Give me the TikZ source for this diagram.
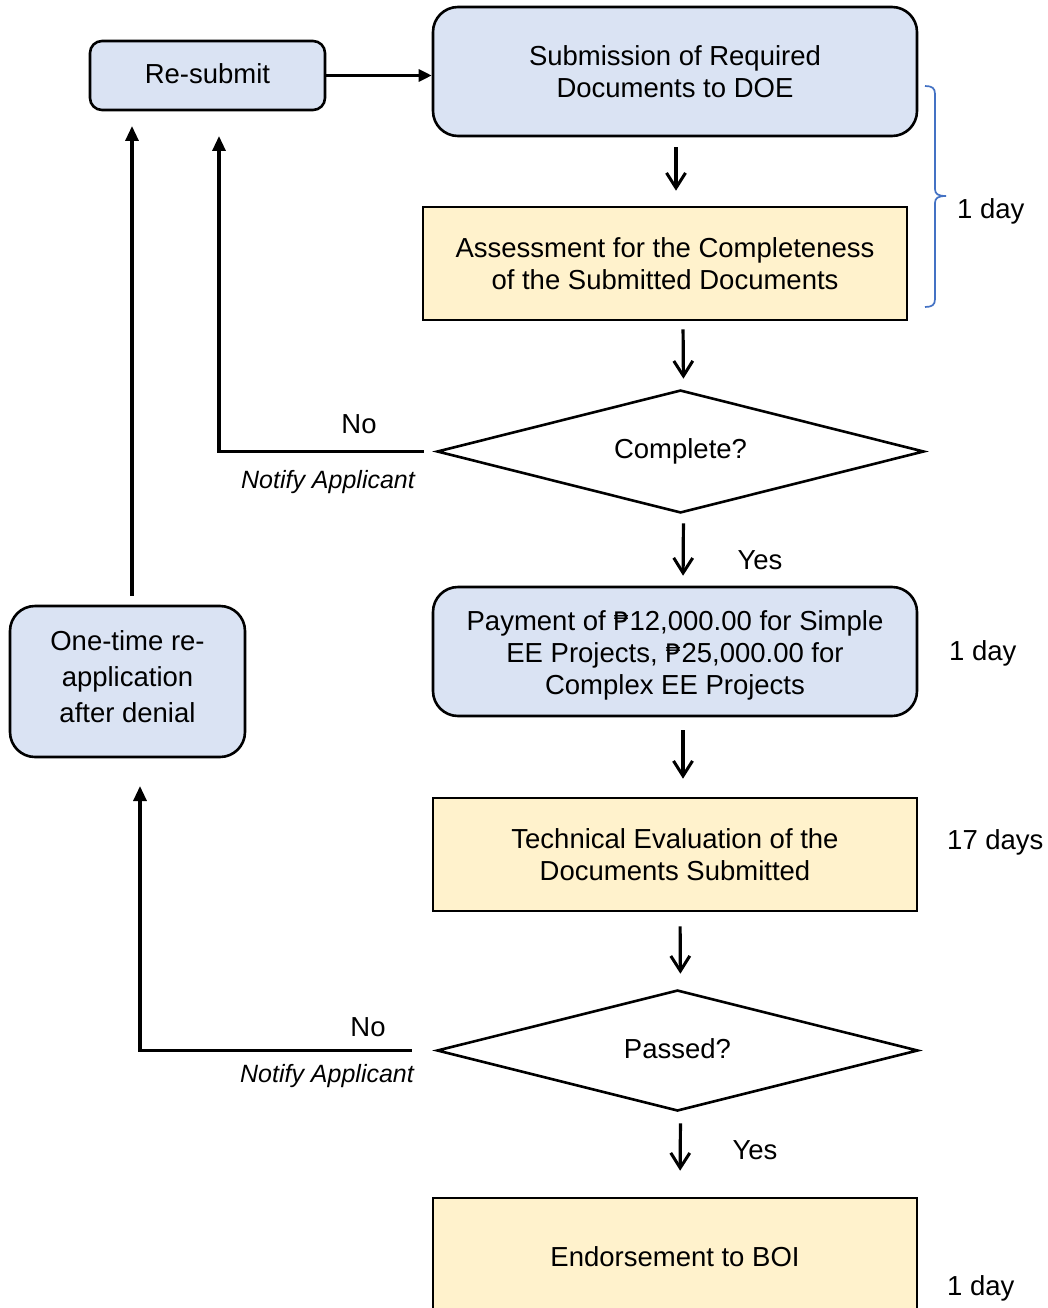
\documentclass[tikz,border=0pt]{standalone}
\usepackage{fontspec}
\setmainfont{Liberation Sans}
\newfontfamily\pesofont{DejaVu Sans}
\usetikzlibrary{shapes.geometric,arrows.meta}
\definecolor{boxblue}{HTML}{DAE3F3}
\definecolor{boxyellow}{HTML}{FFF2CC}
\definecolor{bracecol}{HTML}{4472C4}
\newcommand{\peso}{{\pesofont\fontsize{25.5}{32}\selectfont ₱}}
\begin{document}
\begin{tikzpicture}[x=1pt,y=-1pt,
  txt/.style={font=\fontsize{27.5}{32}\selectfont},
  base/.style={draw=black, line width=2.6pt, align=center, inner sep=0pt, txt},
  bluebox/.style={base, fill=boxblue, rounded corners=#1},
  bluebox/.default=25pt,
  yellowbox/.style={base, fill=boxyellow},
  decision/.style={base, diamond, fill=white, aspect=4},
  lbl/.style={txt, inner sep=0pt},
  note/.style={font=\itshape\fontsize{25}{30}\selectfont, inner sep=0pt},
  varr/.style={line width=3.2pt, -{Straight Barb[length=15pt,width=19pt,line width=3pt]}},
  farr/.style={line width=3.2pt, -{Triangle[length=15pt,width=13pt]}},
  harr/.style={line width=2.8pt, -{Triangle[length=13pt,width=12pt]}},
  noline/.style={line width=3.4pt},
  bracepath/.style={draw=bracecol, line width=1.7pt}
]
\clip (0,0) rectangle (1048,1308);
\fill[white] (0,0) rectangle (1048,1308);

% nodes
\node[bluebox=12pt, minimum width=235pt, minimum height=69pt] (rs) at (207.5,75.5) {\raisebox{4pt}{Re-submit}};
\node[bluebox, minimum width=484pt, minimum height=129pt] (sub) at (675,71.5) {Submission of Required\\Documents to DOE};
\node[yellowbox, minimum width=484pt, minimum height=113pt] (ass) at (665,263.5) {Assessment for the Completeness\\of the Submitted Documents};
\node[decision, minimum width=487pt, minimum height=123pt] (comp) at (680.5,451.5) {\raisebox{3pt}{Complete?}};
\node[bluebox, minimum width=484pt, minimum height=129pt] (pay) at (675,651.5) {};
\node[lbl, align=center] (paytxt) at ([yshift=-4pt]pay.center) {Payment of \peso12,000.00 for Simple\\EE Projects, \peso25,000.00 for\\Complex EE Projects};
\node[yellowbox, minimum width=484pt, minimum height=113pt] (tech) at (675,854.5) {Technical Evaluation of the\\Documents Submitted};
\node[decision, minimum width=481pt, minimum height=121pt] (pass) at (677.5,1050.5) {\raisebox{3pt}{Passed?}};
\node[yellowbox, minimum width=484pt, minimum height=122pt] (endo) at (675,1259) {\raisebox{4pt}{Endorsement to BOI}};
\node[bluebox, minimum width=235pt, minimum height=151pt] (ot) at (127.5,681.5) {};
\node[lbl, align=center, font=\fontsize{27.5}{36}\selectfont] (ottxt) at ([yshift=5pt]ot.center) {One-time re-\\application\\after denial};

% free-end coordinates
\coordinate (tipA) at (219,136);
\coordinate (tipB) at (140,786);
\coordinate (tipC) at (132,126);

% connectors
\draw[harr] (rs.east) -- (sub.west |- rs.east);
\draw[varr, shorten <=10pt, shorten >=15pt] ([xshift=1pt]sub.south) -- ([xshift=11pt]ass.north);
\draw[varr, shorten <=8pt, shorten >=10pt] ([xshift=18pt]ass.south) -- ([xshift=3pt]comp.north);
\draw[varr, shorten <=9pt, shorten >=10pt] ([xshift=3pt]comp.south) -- ([xshift=8pt]pay.north);
\draw[varr, shorten <=13pt, shorten >=18pt] ([xshift=8pt]pay.south) -- ([xshift=8pt]tech.north);
\draw[varr, shorten <=14pt, shorten >=15pt] ([xshift=5pt]tech.south) -- ([xshift=3pt]pass.north);
\draw[varr, shorten <=11pt, shorten >=26pt] ([xshift=3pt]pass.south) -- ([xshift=5pt]endo.north);

\draw[noline, shorten <=12pt] (comp.west) -- ([xshift=-1.6pt]comp.west -| tipA);
\draw[farr] ([yshift=1.6pt]comp.west -| tipA) -- (tipA);
\draw[noline, shorten <=24pt] (pass.west) -- ([xshift=-1.6pt]pass.west -| tipB);
\draw[farr] ([yshift=1.6pt]pass.west -| tipB) -- (tipB);
\draw[farr] ([xshift=4.5pt,yshift=9pt]ot.north) -- (tipC);

% labels
\node[lbl] (no1) at (359,424) {No};
\node[note] (na1) at (328,482) {Notify Applicant};
\node[lbl] (yes1) at (760,560) {Yes};
\node[lbl] (no2) at (368,1027) {No};
\node[note] (na2) at (327,1076) {Notify Applicant};
\node[lbl] (yes2) at (755,1150) {Yes};

% durations
\node[lbl, anchor=west] (d1) at (957,211) {1 day};
\node[lbl, anchor=west] (d2) at (949,653) {1 day};
\node[lbl, anchor=west] (d3) at (947,842) {17 days};
\node[lbl, anchor=west] (d4) at (947,1288) {1 day};

% brace
\draw[bracepath] (925,86) .. controls (932,86) and (935,88) .. (935,94) -- (935,189)
  .. controls (935,194) and (938,196) .. (946,196)
  .. controls (938,196) and (935,198) .. (935,203) -- (935,299)
  .. controls (935,305) and (932,307) .. (925,307);
\end{tikzpicture}
\end{document}
